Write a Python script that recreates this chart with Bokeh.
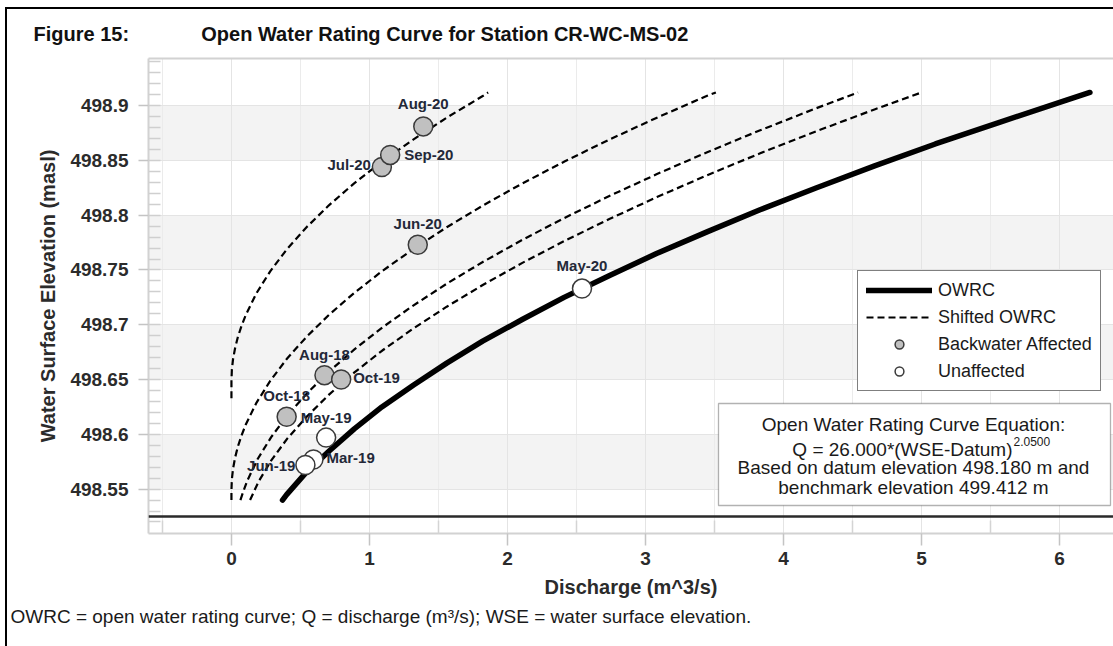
from bokeh.plotting import figure
from bokeh.models import (Range1d, FixedTicker, LinearAxis, Label, BoxAnnotation,
                          Span, Legend, LegendItem, ColumnDataSource, Title)
from bokeh.core.properties import value
from bokeh.embed import file_html
from bokeh.resources import INLINE

# ---------------- data ----------------
x_ticks = [0, 1, 2, 3, 4, 5, 6]
x_minor_ticks = [-0.5, 0.5, 1.5, 2.5, 3.5, 4.5, 5.5]
y_ticks = [498.55, 498.6, 498.65, 498.7, 498.75, 498.8, 498.85, 498.9]
y_tick_labels = ["498.55", "498.6", "498.65", "498.7", "498.75", "498.8", "498.85", "498.9"]
y_minor_ticks = [round(498.52 + 0.01 * i, 2) for i in range(43)]

# Open water rating curve (solid)
owrc_q = [0.37, 0.40, 0.54, 0.71, 0.89, 1.09, 1.32, 1.56, 1.82, 2.11, 2.41,
          2.74, 3.08, 3.45, 3.83, 4.24, 4.66, 5.10, 5.57, 6.05, 6.22]
owrc_wse = [498.540, 498.545, 498.565, 498.585, 498.605, 498.625, 498.645, 498.665,
            498.685, 498.705, 498.725, 498.745, 498.765, 498.785, 498.805, 498.825,
            498.845, 498.865, 498.885, 498.905, 498.912]

# Shifted OWRC curves (dashed)
shift1_q = [0.0, 0.0, 0.003, 0.012, 0.027, 0.047, 0.073, 0.104, 0.182, 0.282,
            0.402, 0.544, 0.706, 0.889, 1.092, 1.317, 1.560, 1.824, 1.86]
shift1_wse = [498.633, 498.649, 498.659, 498.669, 498.679, 498.689, 498.699, 498.709,
              498.729, 498.749, 498.769, 498.789, 498.809, 498.829, 498.849, 498.869,
              498.889, 498.909, 498.912]

shift2_q = [0.0, 0.0, 0.003, 0.012, 0.027, 0.047, 0.073, 0.104, 0.182, 0.282, 0.402,
            0.544, 0.706, 0.889, 1.092, 1.317, 1.560, 1.824, 2.108, 2.413, 2.738,
            3.083, 3.447, 3.51]
shift2_wse = [498.540, 498.549, 498.559, 498.569, 498.579, 498.589, 498.599, 498.609,
              498.629, 498.649, 498.669, 498.689, 498.709, 498.729, 498.749, 498.769,
              498.789, 498.809, 498.829, 498.849, 498.869, 498.889, 498.909, 498.912]

shift3_q = [0.065, 0.085, 0.114, 0.190, 0.288, 0.407, 0.548, 0.709, 0.891, 1.093,
            1.317, 1.560, 1.824, 2.108, 2.413, 2.738, 3.083, 3.447, 3.831, 4.235, 4.54]
shift3_wse = [498.540, 498.5475, 498.5575, 498.5775, 498.5975, 498.6175, 498.6375,
              498.6575, 498.6775, 498.6975, 498.7175, 498.7375, 498.7575, 498.7775,
              498.7975, 498.8175, 498.8375, 498.8575, 498.8775, 498.8975, 498.912]

shift4_q = [0.135, 0.195, 0.290, 0.407, 0.548, 0.709, 0.891, 1.093, 1.317, 1.560,
            1.824, 2.108, 2.413, 2.738, 3.083, 3.447, 3.831, 4.235, 4.659, 5.00]
shift4_wse = [498.540, 498.5565, 498.5765, 498.5965, 498.6165, 498.6365, 498.6565,
              498.6765, 498.6965, 498.7165, 498.7365, 498.7565, 498.7765, 498.7965,
              498.8165, 498.8365, 498.8565, 498.8765, 498.8965, 498.912]

# Measurements
backwater_month = ["Oct-18", "Aug-18", "Oct-19", "Jun-20", "Jul-20", "Sep-20", "Aug-20"]
backwater_q = [0.40, 0.674, 0.795, 1.35, 1.09, 1.15, 1.39]
backwater_wse = [498.616, 498.654, 498.650, 498.773, 498.844, 498.855, 498.881]

unaffected_month = ["Mar-19", "Jun-19", "May-19", "May-20"]
unaffected_q = [0.594, 0.536, 0.686, 2.54]
unaffected_wse = [498.577, 498.572, 498.597, 498.733]

datum_line_wse = 498.525

# label placement (screen px offsets) per measurement
backwater_dx = [0, 0, 12, 0, -11, 14, 0]
backwater_dy = [-21, -21, -2, -21, -2, 0, -23]
backwater_align = ["center", "center", "left", "center", "right", "left", "center"]
unaffected_dx = [13, -10, 0, 0]
unaffected_dy = [-2, 0, -20, -23]
unaffected_align = ["left", "right", "center", "center"]

# ---------------- layout ----------------
W, H = 1113, 646
FL, FT, FR, FB = 148, 58, 1113, 533
X0, X1 = -0.601, 6.391
Y0, Y1 = 498.5095, 498.943
FONT = "Liberation Sans"
NBSP = "\u00a0"


def qx(px):
    return X0 + (px - FL) * (X1 - X0) / (FR - FL)


def wy(py):
    return Y1 - (py - FT) * (Y1 - Y0) / (FB - FT)


p = figure(width=W, height=H, output_backend="svg", toolbar_location=None,
           x_range=Range1d(X0, X1), y_range=Range1d(Y0, Y1),
           min_border_left=FL, min_border_right=0, min_border_top=FT,
           min_border_bottom=H - FB, outline_line_color=None,
           background_fill_color="white", border_fill_color=None,
           styles={"background-color": "white",
                   "box-shadow": "inset 5px 7px 0 0 white, inset 7px 9px 0 0 black"})

# title (two parts on one line)
p.title.text = "Figure 15:" + NBSP * 13 + "Open Water Rating Curve for Station CR-WC-MS-02"
p.title.align = "left"
p.title.offset = 33 - FL
p.title.text_font = FONT
p.title.text_font_style = "bold"
p.title.text_font_size = "20px"
p.title.text_color = "#111111"
p.title.standoff = 28

# axes
xa = p.xaxis[0]
xa.ticker = FixedTicker(ticks=x_ticks, minor_ticks=x_minor_ticks)
xa.axis_line_color = "#d2d2d2"
xa.axis_line_width = 2
xa.major_tick_line_color = "#c4c4c4"
xa.major_tick_line_width = 1.5
xa.major_tick_out = 12
xa.major_tick_in = 0
xa.minor_tick_line_color = "#d4d4d4"
xa.minor_tick_line_width = 1.5
xa.minor_tick_out = 0
xa.minor_tick_in = 13
xa.major_label_text_font = FONT
xa.major_label_text_font_style = "bold"
xa.major_label_text_font_size = "19px"
xa.major_label_text_color = "#2b2b2b"
xa.major_label_standoff = 6
xa.axis_label = "Discharge (m^3/s)"
xa.axis_label_text_font = FONT
xa.axis_label_text_font_style = "bold"
xa.axis_label_text_font_size = "20px"
xa.axis_label_text_color = "#2b2b2b"
xa.axis_label_standoff = 8

ya = p.yaxis[0]
ya.ticker = FixedTicker(ticks=y_ticks, minor_ticks=y_minor_ticks)
ya.major_label_overrides = {t: s for t, s in zip(y_ticks, y_tick_labels)}
ya.axis_line_color = "#d2d2d2"
ya.axis_line_width = 2
ya.major_tick_line_color = "#c4c4c4"
ya.major_tick_line_width = 1.5
ya.major_tick_out = 10
ya.major_tick_in = 0
ya.minor_tick_line_color = "#cfcfcf"
ya.minor_tick_line_width = 1.5
ya.minor_tick_out = 0
ya.minor_tick_in = 12
ya.major_label_text_font = FONT
ya.major_label_text_font_style = "bold"
ya.major_label_text_font_size = "19px"
ya.major_label_text_color = "#2b2b2b"
ya.major_label_standoff = 10
ya.axis_label = "Water Surface Elevation (masl)"
ya.axis_label_text_font = FONT
ya.axis_label_text_font_style = "bold"
ya.axis_label_text_font_size = "20px"
ya.axis_label_text_color = "#2b2b2b"
ya.axis_label_standoff = 8

top_axis = LinearAxis(ticker=FixedTicker(ticks=[]), axis_line_color="#d2d2d2",
                      axis_line_width=2, major_tick_line_color=None,
                      minor_tick_line_color=None, major_label_text_font_size="0px")
p.add_layout(top_axis, "above")

# footnote below the x axis
p.add_layout(Title(text="OWRC = open water rating curve; Q = discharge (m\u00b3/s); "
                        "WSE = water surface elevation.",
                   align="left", offset=10 - FL, text_font=FONT, text_font_style="normal",
                   text_font_size="19px", text_color="#1a1a1a", standoff=6), "below")

# grids
p.xgrid[0].ticker = xa.ticker
p.xgrid[0].grid_line_color = "#e4e4e4"
p.xgrid[0].minor_grid_line_color = "#ebebeb"
p.ygrid[0].ticker = ya.ticker
p.ygrid[0].grid_line_color = "#e4e4e4"

for i in range(0, len(y_ticks) - 1, 2):
    p.add_layout(BoxAnnotation(bottom=y_ticks[i], top=y_ticks[i + 1],
                               fill_color="#f3f3f3", fill_alpha=1.0,
                               line_color=None, level="image"))

p.add_layout(Span(location=datum_line_wse, dimension="width",
                  line_color="#2a2a2a", line_width=2.5))

# curves
shifted = p.multi_line(xs=[shift1_q, shift2_q, shift3_q, shift4_q],
                       ys=[shift1_wse, shift2_wse, shift3_wse, shift4_wse],
                       line_color="black", line_width=2.2, line_dash="7 4")
owrc = p.line(owrc_q, owrc_wse, line_color="black", line_width=5.5,
              line_cap="round")

# points
bw_src = ColumnDataSource(dict(q=backwater_q, wse=backwater_wse, label=backwater_month,
                               dx=backwater_dx, dy=backwater_dy, align=backwater_align))
un_src = ColumnDataSource(dict(q=unaffected_q, wse=unaffected_wse, label=unaffected_month,
                               dx=unaffected_dx, dy=unaffected_dy, align=unaffected_align))

bw_pts = p.scatter("q", "wse", source=bw_src, marker="circle", size=19,
                   fill_color="#c0c0c0", line_color="#3a3a3a", line_width=1.5)
un_pts = p.scatter("q", "wse", source=un_src, marker="circle", size=19,
                   fill_color="white", line_color="#3a3a3a", line_width=1.5)

for src in (bw_src, un_src):
    p.text("q", "wse", text="label", source=src, x_offset="dx", y_offset="dy",
           text_align="align", text_baseline="middle",
           text_font=value(FONT), text_font_style="bold", text_font_size="15px",
           text_color="#232838")

# legend
legend = Legend(items=[LegendItem(label="OWRC", renderers=[owrc]),
                       LegendItem(label="Shifted OWRC", renderers=[shifted]),
                       LegendItem(label="Backwater Affected", renderers=[bw_pts]),
                       LegendItem(label="Unaffected", renderers=[un_pts])],
                location=(709, 142), label_text_font=FONT, label_text_font_size="18px",
                label_text_color="#1a1a1a", glyph_width=66, glyph_height=22,
                label_height=22, label_standoff=6, spacing=5, padding=8, margin=0,
                border_line_color="black", border_line_width=1.5,
                background_fill_color="white", background_fill_alpha=1.0)
p.add_layout(legend)

# equation box
p.add_layout(BoxAnnotation(left=qx(718), right=qx(1110), top=wy(403), bottom=wy(505),
                           fill_color="white", fill_alpha=1.0, line_color="black",
                           line_width=1.3))
eq_style = dict(text_font=FONT, text_font_size="19px", text_color="#1a1a1a",
                text_baseline="middle")
p.add_layout(Label(x=qx(913), y=wy(424), text="Open Water Rating Curve Equation:",
                   text_align="center", **eq_style))
p.add_layout(Label(x=qx(1012), y=wy(449), text="Q = 26.000*(WSE-Datum)",
                   text_align="right", **eq_style))
p.add_layout(Label(x=qx(1013), y=wy(441), text="2.0500", text_align="left",
                   text_font=FONT, text_font_size="12px", text_color="#1a1a1a",
                   text_baseline="middle"))
p.add_layout(Label(x=qx(913), y=wy(467), text="Based on datum elevation 498.180 m and",
                   text_align="center", **eq_style))
p.add_layout(Label(x=qx(913), y=wy(487), text="benchmark elevation 499.412 m",
                   text_align="center", **eq_style))

open("out.html", "w").write(file_html(p, INLINE))
